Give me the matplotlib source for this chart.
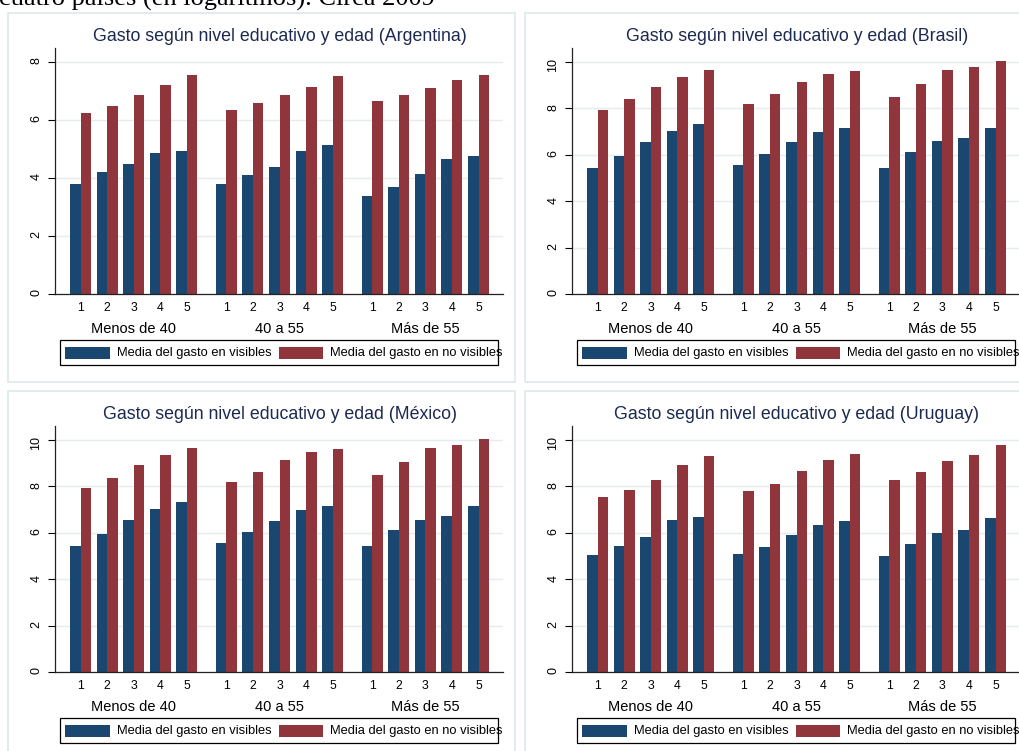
import matplotlib.pyplot as plt
import numpy as np
from matplotlib.patches import Rectangle

plt.rcParams['font.family'] = ['Liberation Sans', 'DejaVu Sans']

W, H = 1019, 751
AZUL = '#1a476f'
ROJO = '#90353b'
GRID = '#e3ecee'
BORDE = '#e0eaec'
TITULO = '#1c2951'

niveles = ['1', '2', '3', '4', '5']
edades = ['Menos de 40', '40 a 55', 'Más de 55']

# medias por grupo de edad (3) x nivel educativo (5), en logaritmos
arg_vis = [3.81, 4.21, 4.48, 4.87, 4.94,
           3.81, 4.10, 4.39, 4.94, 5.15,
           3.37, 3.68, 4.15, 4.64, 4.76]
arg_novis = [6.25, 6.48, 6.85, 7.20, 7.54,
             6.33, 6.60, 6.87, 7.14, 7.52,
             6.66, 6.87, 7.09, 7.38, 7.56]

bra_vis = [5.44, 5.95, 6.57, 7.03, 7.33,
           5.57, 6.05, 6.54, 6.99, 7.14,
           5.41, 6.11, 6.59, 6.74, 7.16]
bra_novis = [7.95, 8.39, 8.94, 9.37, 9.66,
             8.18, 8.64, 9.12, 9.48, 9.63,
             8.51, 9.07, 9.64, 9.80, 10.03]

mex_vis = [5.42, 5.94, 6.56, 7.02, 7.32,
           5.57, 6.05, 6.53, 6.97, 7.14,
           5.41, 6.11, 6.57, 6.74, 7.16]
mex_novis = [7.95, 8.38, 8.94, 9.37, 9.66,
             8.18, 8.64, 9.12, 9.48, 9.63,
             8.51, 9.07, 9.64, 9.79, 10.03]

uru_vis = [5.05, 5.42, 5.80, 6.54, 6.69,
           5.08, 5.37, 5.91, 6.33, 6.51,
           5.02, 5.52, 5.98, 6.13, 6.64]
uru_novis = [7.56, 7.83, 8.28, 8.94, 9.30,
             7.80, 8.09, 8.65, 9.12, 9.40,
             8.26, 8.62, 9.08, 9.35, 9.80]

paneles = [
    ('Argentina', arg_vis, arg_novis, 8, 0, 0),
    ('Brasil', bra_vis, bra_novis, 10, 517, 0),
    ('México', mex_vis, mex_novis, 10, 0, 378),
    ('Uruguay', uru_vis, uru_novis, 10, 517, 378),
]


def fx(x):
    return x / W


def fy(y):
    return 1 - y / H


fig = plt.figure(figsize=(W / 100, H / 100), dpi=100)
fig.patch.set_facecolor('white')

fig.text(fx(-1), fy(6), 'cuatro países (en logaritmos). Circa 2009',
         family=['Liberation Serif', 'DejaVu Serif'], fontsize=19,
         ha='left', va='baseline', color='black')

paso_grupo = 5.48
ancho = 0.395
pos = np.concatenate([g * paso_grupo + np.arange(len(niveles))
                      for g in range(len(edades))])

for pais, vis, novis, ytop, ox, oy in paneles:
    # marco del panel
    fig.add_artist(Rectangle((fx(8 + ox), fy(381.5 + oy)), 507 / W, 368.5 / H,
                             transform=fig.transFigure, fill=False,
                             ec=BORDE, lw=1.3))

    ax = fig.add_axes([fx(55 + ox), fy(294 + oy), 448 / W, 246 / H])
    ax.bar(pos - ancho / 2, vis, ancho, color=AZUL, lw=0)
    ax.bar(pos + ancho / 2, novis, ancho, color=ROJO, lw=0)

    ax.set_xlim(-0.96, 15.88)
    ax.set_ylim(0, ytop + 14 * ytop / 232)
    ax.set_yticks(np.arange(0, ytop + 1, 2))
    ax.grid(axis='y', color=GRID, lw=1)
    ax.set_axisbelow(True)
    for s in ('top', 'right'):
        ax.spines[s].set_visible(False)
    for s in ('left', 'bottom'):
        ax.spines[s].set_color('#222222')
        ax.spines[s].set_linewidth(0.9)
    ax.spines['bottom'].set_zorder(5)

    ax.set_xticks(pos)
    ax.set_xticklabels(niveles * len(edades), fontsize=8.8)
    ax.tick_params(axis='x', length=0, pad=6)
    ax.tick_params(axis='y', length=5, width=0.8, labelrotation=90,
                   labelsize=9, pad=4)

    for g, e in enumerate(edades):
        ax.annotate(e, xy=(g * paso_grupo + 2, 0),
                    xycoords=('data', 'axes fraction'),
                    xytext=(0, -39), textcoords='offset pixels',
                    ha='center', va='baseline', fontsize=10.5)

    fig.text(fx(280 + ox), fy(41 + oy),
             f'Gasto según nivel educativo y edad ({pais})',
             ha='center', va='baseline', fontsize=12.8, color=TITULO)

    # leyenda
    fig.add_artist(Rectangle((fx(60 + ox), fy(365 + oy)), 438 / W, 25 / H,
                             transform=fig.transFigure, fill=False,
                             ec='black', lw=0.9))
    for x0, x1, tx, color, txt in [
            (65, 110, 117, AZUL, 'Media del gasto en visibles'),
            (279, 323, 330, ROJO, 'Media del gasto en no visibles')]:
        fig.add_artist(Rectangle((fx(x0 + ox), fy(359.3 + oy)),
                                 (x1 - x0) / W, 12.6 / H,
                                 transform=fig.transFigure, color=color, lw=0))
        fig.text(fx(tx + ox), fy(353 + oy), txt, ha='left', va='center',
                 fontsize=9.3, color='black')

fig.savefig('out.png', dpi=100)
